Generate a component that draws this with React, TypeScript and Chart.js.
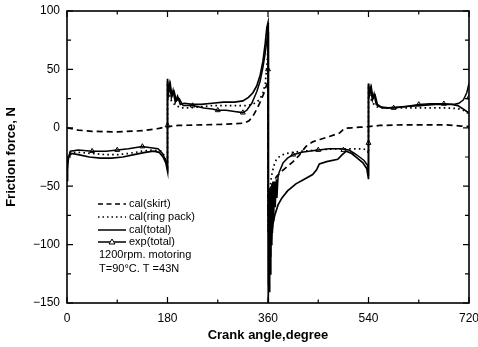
import React, { useEffect, useRef } from "react";
import { Chart, registerables } from "chart.js";

Chart.register(...registerables);

const FONT = "'Liberation Sans', Arial, Helvetica, sans-serif";

// ---- data (crank angle in degrees, friction force in N) ----
const skirtAngles = [0, 20, 45, 90, 135, 165, 180, 200, 240, 280, 300, 318, 326, 333, 340, 347, 353, 357, 360,
  360, 363, 368, 375, 385, 395, 405, 415, 428, 440, 453, 470, 488, 497, 510, 525, 540,
  560, 600, 640, 680, 695, 705, 720];
const skirtForces = [0, -2, -3, -3.5, -2.5, -0.5, 1, 2, 2.5, 3, 3.5, 4, 6, 10, 16, 23, 30, 36, 40,
  -75, -58, -48, -42, -37, -33, -29, -24, -16, -12, -10, -7.5, -4.5, -0.5, 0, 0.5, 1,
  2, 2.5, 2.5, 2.5, 2, 1.5, 1];

const ringAngles = [0, 2, 6, 20, 45, 70, 90, 110, 135, 155, 168, 175, 180,
  180, 183, 188, 195, 205, 220, 240, 260, 280, 300, 320, 332, 340, 346, 351, 355, 358, 360,
  360, 361, 363, 366, 370, 375, 382, 392, 405, 420, 450, 480, 510, 530, 537, 540,
  540, 543, 548, 555, 565, 600, 640, 680, 700, 710, 720];
const ringForces = [-38, -24, -21, -21, -22, -23, -23, -22, -20, -19, -20, -24, -34,
  38, 28, 22, 19, 17, 17, 18, 19, 19, 19, 19, 20, 22, 25, 30, 38, 52, 70,
  -90, -70, -55, -42, -33, -27, -24, -22, -21, -20, -19, -18, -18, -18, -19, -22,
  35, 26, 21, 18, 17, 17, 17, 17, 16.5, 15, 12];

const calAngles = [0, 1, 3, 8, 20, 40, 60, 80, 100, 120, 140, 155, 165, 172, 177, 180,
  180, 182, 184, 187, 190, 194, 198, 203, 210, 225, 240, 260, 280, 300, 315, 325, 333, 340, 346, 351, 355, 358, 360,
  360, 361, 362, 363, 364, 365, 367, 369, 372, 378, 385, 395, 410, 425, 440, 447, 452, 465, 485, 493, 500, 510, 520, 530, 537, 540,
  540, 542, 544, 547, 550, 554, 560, 575, 600, 630, 660, 690, 700, 710, 716, 720];
const calForces = [-45, -32, -25, -22, -23, -25, -26, -26, -25, -23, -21, -20, -21, -25, -30, -37,
  42, 30, 37, 26, 32, 22, 27, 20, 21, 20, 20, 21, 22, 22, 23, 26, 30, 36, 45, 57, 72, 86, 90,
  -150, -95, -140, -88, -125, -100, -90, -82, -75, -66, -60, -54, -48, -44, -40, -36, -31, -29, -27, -23, -20, -22, -26, -30, -35, -44,
  38, 29, 34, 24, 29, 20, 18, 17, 18, 19, 20, 20, 19, 16, 14, 13];

const expAngles = [0, 2, 6, 20, 45, 70, 90, 110, 135, 150, 163, 171, 177, 180,
  180, 182, 185, 188, 192, 196, 201, 208, 225, 245, 260, 270, 285, 300, 315, 322, 331, 340, 346, 351, 355, 358, 360,
  360, 361, 361.5, 362, 362.5, 363, 364, 365, 366, 367, 368, 369, 370, 372, 373, 375, 376, 378, 380, 387, 395, 405, 420, 450, 470, 490, 505, 515, 524, 532, 538, 540,
  540, 542, 545, 548, 552, 556, 565, 585, 605, 630, 650, 675, 692, 702, 710, 716, 720];
const expForces = [-40, -26, -20, -19, -20, -20, -19, -18, -16, -17, -18, -22, -28, -33,
  40, 33, 38, 27, 31, 23, 25, 19, 19, 17, 16, 15, 15, 14, 13, 15, 21, 31, 40, 52, 64, 75, 82,
  -135, -60, -130, -55, -120, -52, -110, -50, -100, -48, -90, -46, -80, -46, -68, -44, -60, -42, -38, -30, -26, -23, -21, -19, -18, -18, -19, -22, -25, -28, -32, -36,
  37, 30, 35, 25, 28, 20, 17, 17, 18, 20, 20.5, 20.5, 20, 21, 24, 30, 38];

const expMarkAngles = [45, 90, 135, 180, 225, 270, 315, 360, 405, 450, 495, 540, 585, 630, 675, 720];
const expMarkForces = [-20, -19, -16, 2, 19, 15, 13, 50, -23, -19, -19, -13, 17, 20, 20.5, 26];

const legendLabels = ["cal(skirt)", "cal(ring pack)", "cal(total)", "exp(total)"];
const noteLines = ["1200rpm. motoring", "T=90°C. T =43N"];

const xTickMin = 0, xTickMax = 720, xMajor = 180, xMinor = 90;
const yTickMin = -150, yTickMax = 100, yMajor = 50, yMinor = 25;

function pts(a: number[], f: number[]) {
  return a.map((x, i) => ({ x, y: f[i] }));
}

const framePlugin = {
  id: "frame",
  afterDraw(chart: any) {
    const { ctx, chartArea: ca, scales } = chart;
    const xs = scales.x, ys = scales.y;
    ctx.save();
    ctx.strokeStyle = "#000";
    ctx.lineWidth = 1.6;
    ctx.strokeRect(ca.left, ca.top, ca.right - ca.left, ca.bottom - ca.top);
    ctx.lineWidth = 1.2;
    ctx.beginPath();
    for (let v = xTickMin; v <= xTickMax; v += xMinor) {
      const p = xs.getPixelForValue(v);
      const len = v % xMajor === 0 ? 6 : 3.5;
      ctx.moveTo(p, ca.bottom);
      ctx.lineTo(p, ca.bottom - len);
      ctx.moveTo(p, ca.top);
      ctx.lineTo(p, ca.top + len);
    }
    for (let v = yTickMin; v <= yTickMax; v += yMinor) {
      const p = ys.getPixelForValue(v);
      const len = v % yMajor === 0 ? 6 : 4;
      ctx.moveTo(ca.left, p);
      ctx.lineTo(ca.left + len, p);
      ctx.moveTo(ca.right, p);
      ctx.lineTo(ca.right - len, p);
    }
    ctx.stroke();
    ctx.restore();
  },
};

const legendPlugin = {
  id: "insideLegend",
  afterDraw(chart: any) {
    const { ctx } = chart;
    const x0 = 98, x1 = 126, tx = 129;
    const rows = [204, 217, 230, 242];
    const dashes: number[][] = [[5, 3.5], [1.5, 3], [], []];
    ctx.save();
    ctx.fillStyle = "#000";
    ctx.strokeStyle = "#000";
    ctx.font = `11px ${FONT}`;
    ctx.textBaseline = "middle";
    rows.forEach((y, i) => {
      ctx.beginPath();
      ctx.setLineDash(dashes[i]);
      ctx.lineWidth = 1.5;
      ctx.moveTo(x0, y);
      ctx.lineTo(x1, y);
      ctx.stroke();
      ctx.setLineDash([]);
      if (i === 3) {
        const cx = (x0 + x1) / 2;
        ctx.beginPath();
        ctx.moveTo(cx, y - 3);
        ctx.lineTo(cx + 3, y + 2);
        ctx.lineTo(cx - 3, y + 2);
        ctx.closePath();
        ctx.fillStyle = "#fff";
        ctx.fill();
        ctx.lineWidth = 1;
        ctx.stroke();
        ctx.fillStyle = "#000";
      }
      ctx.fillText(legendLabels[i], tx, y);
    });
    ctx.fillText(noteLines[0], 99, 255);
    ctx.fillText(noteLines[1], 99, 268.5);
    ctx.restore();
  },
};

export default function App() {
  const ref = useRef<HTMLCanvasElement>(null);
  useEffect(() => {
    if (!ref.current) return;
    const line = (label: string, data: any, dash: number[], width: number) => ({
      label,
      data,
      borderColor: "#000",
      backgroundColor: "#000",
      borderWidth: width,
      borderDash: dash,
      pointRadius: 0,
      tension: 0,
      fill: false,
    });
    const chart = new Chart(ref.current, {
      type: "line",
      data: {
        datasets: [
          line(legendLabels[0], pts(skirtAngles, skirtForces), [6, 4], 1.7),
          line(legendLabels[1], pts(ringAngles, ringForces), [1.6, 3.2], 1.7),
          line(legendLabels[2], pts(calAngles, calForces), [], 1.7),
          line(legendLabels[3], pts(expAngles, expForces), [], 1.5),
          {
            label: "exp markers",
            data: pts(expMarkAngles, expMarkForces),
            showLine: false,
            pointStyle: "triangle",
            pointRadius: 2.8,
            pointBackgroundColor: "#fff",
            pointBorderColor: "#000",
            pointBorderWidth: 1,
            borderColor: "#000",
          } as any,
        ],
      },
      options: {
        animation: false,
        responsive: false,
        layout: { padding: { top: 11, right: 9, left: 0, bottom: 0 } },
        plugins: { legend: { display: false }, tooltip: { enabled: false } },
        scales: {
          x: {
            type: "linear",
            min: xTickMin,
            max: xTickMax,
            ticks: {
              stepSize: xMajor,
              color: "#000",
              font: { family: FONT, size: 12 },
              padding: 8,
              maxRotation: 0,
            },
            grid: { display: false, drawTicks: false },
            border: { display: false },
            title: {
              display: true,
              text: "Crank angle,degree",
              color: "#000",
              font: { family: FONT, size: 13, weight: "bold" },
            },
            afterFit: (s: any) => {
              s.height = 44;
              s.paddingLeft = 0;
              s.paddingRight = 0;
            },
          },
          y: {
            type: "linear",
            min: yTickMin,
            max: yTickMax,
            ticks: {
              stepSize: yMajor,
              color: "#000",
              font: { family: FONT, size: 12 },
              padding: 7,
              callback: (v: any) => String(v).replace("-", "\u2212"),
            },
            grid: { display: false, drawTicks: false },
            border: { display: false },
            title: {
              display: true,
              text: "Friction force, N",
              color: "#000",
              font: { family: FONT, size: 13, weight: "bold" },
            },
            afterFit: (s: any) => {
              s.width = 67;
              s.paddingTop = 0;
              s.paddingBottom = 0;
            },
          },
        },
      } as any,
      plugins: [framePlugin, legendPlugin],
    });
    return () => chart.destroy();
  }, []);
  return (
    <div style={{ position: "absolute", left: 0, top: 0, width: 478, height: 347, background: "#fff" }}>
      <canvas ref={ref} width={478} height={347} style={{ display: "block" }} />
    </div>
  );
}
